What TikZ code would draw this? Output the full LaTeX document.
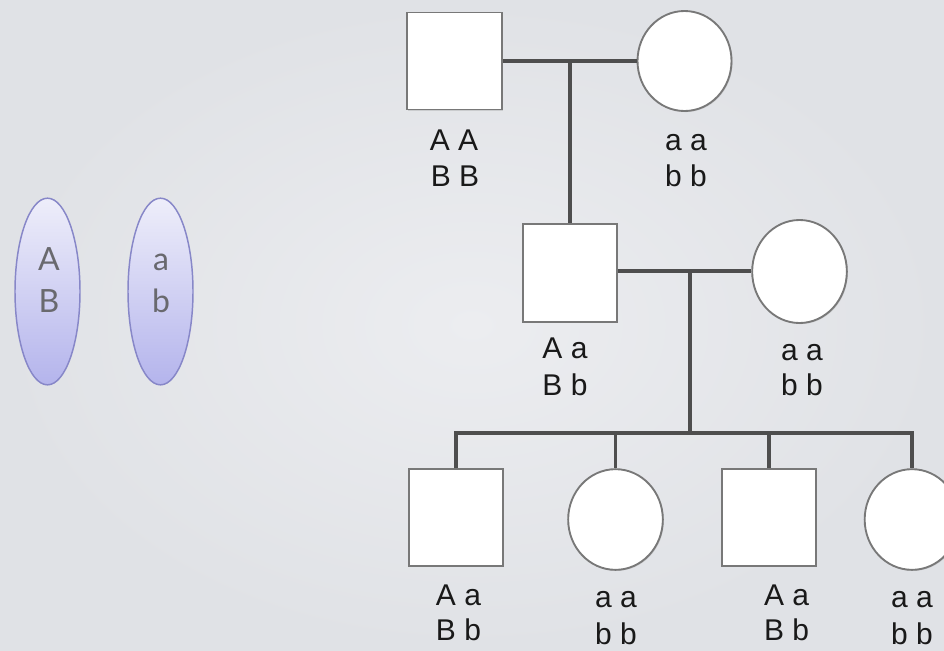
\documentclass[tikz,border=0pt]{standalone}
\usepackage{fontspec}
\setmainfont{Liberation Sans}
\newfontfamily\gamfont{Lato}
\usetikzlibrary{shapes.geometric,shadows}
\definecolor{bgin}{RGB}{236,237,240}
\definecolor{bgout}{RGB}{224,226,230}
\definecolor{linecol}{RGB}{78,78,78}
\definecolor{bordercol}{RGB}{120,120,120}
\definecolor{gamtop}{RGB}{238,238,250}
\definecolor{gambot}{RGB}{180,180,236}
\definecolor{gamborder}{RGB}{135,135,200}
\definecolor{gamtext}{RGB}{105,105,110}
\definecolor{genotext}{RGB}{25,25,25}
\tikzset{
  link/.style={draw=linecol, line width=2.4pt},
  indiv/.style={draw=bordercol, line width=1.4pt, fill=white, inner sep=0pt,
    drop shadow={opacity=0.25, shadow xshift=0.8pt, shadow yshift=-0.8pt}},
  male/.style={indiv, rectangle, minimum width=71pt, minimum height=72.75pt},
  female/.style={indiv, ellipse, minimum width=71pt, minimum height=75.5pt},
  gamete/.style={ellipse, draw=gamborder, line width=1.1pt, top color=gamtop,
    bottom color=gambot, minimum width=48.75pt, minimum height=140pt, inner sep=0pt},
  geno/.style={anchor=base, inner sep=0pt, text=genotext,
    font=\fontsize{22.5pt}{27pt}\selectfont},
  gletter/.style={anchor=base, inner sep=0pt, text=gamtext,
    font=\gamfont\fontsize{24pt}{30pt}\selectfont}
}
\begin{document}
\begin{tikzpicture}[x=0.75pt, y=-0.75pt]
  \useasboundingbox (0,0) rectangle (944,650);
  \clip (0,0) rectangle (944,650);
  \shade[inner color=bgin, outer color=bgout] (0,0) rectangle (944,650);

  % gametes
  \node[gamete] (e1) at (47.5,291.5) {};
  \node[gamete] (e2) at (160.5,291.5) {};
  \node[gletter] (e1a) at (49,270) {A};
  \node[gletter] (e1b) at (49,312) {B};
  \node[gletter] (e2a) at (161,270) {a};
  \node[gletter] (e2b) at (161,312) {b};

  % individuals
  \node[male] (s1) at (454.5,61) {};
  \node[female, minimum width=70.5pt, minimum height=75pt] (c1) at (684.5,61) {};
  \node[male, minimum width=70.5pt, minimum height=73.5pt] (s2) at (570,273) {};
  \node[female, minimum height=77.25pt] (c2) at (799.5,271.5) {};
  \node[male] (s3) at (456,517.5) {};
  \node[female] (c3) at (615.5,519.5) {};
  \node[male] (s4) at (769,517.5) {};
  \node[female] (c4) at (912,519.5) {};

  % connectors
  \coordinate (m1) at (570,61);
  \coordinate (m2) at (690,271);
  \coordinate (sib) at (690,433);
  \draw[link] (s1.east) -- (c1.west);
  \draw[link] (m1) -- (s2.north);
  \draw[link] (s2.east |- m2) -- (c2.west |- m2);
  \draw[link] (m2) -- (sib);
  \draw[link] (s3.north) |- (sib) -| (c4.north);
  \draw[link] (c3.north) -- (c3.north |- sib);
  \draw[link] (s4.north) -- (s4.north |- sib);

  % genotype labels
  \node[geno] (g1a) at (454,150) {A A};
  \node[geno] (g1b) at (455,186) {B B};
  \node[geno] (g2a) at (686,150) {a a};
  \node[geno] (g2b) at (686,186) {b b};
  \node[geno] (g3a) at (565,358) {A a};
  \node[geno] (g3b) at (565,395) {B b};
  \node[geno] (g4a) at (802,360) {a a};
  \node[geno] (g4b) at (802,395) {b b};
  \node[geno] (g5a) at (458.5,605) {A a};
  \node[geno] (g5b) at (458.5,640) {B b};
  \node[geno] (g6a) at (616,607) {a a};
  \node[geno] (g6b) at (616,644) {b b};
  \node[geno] (g7a) at (786.5,605) {A a};
  \node[geno] (g7b) at (786.5,640) {B b};
  \node[geno] (g8a) at (912,607) {a a};
  \node[geno] (g8b) at (912,644) {b b};
\end{tikzpicture}
\end{document}
